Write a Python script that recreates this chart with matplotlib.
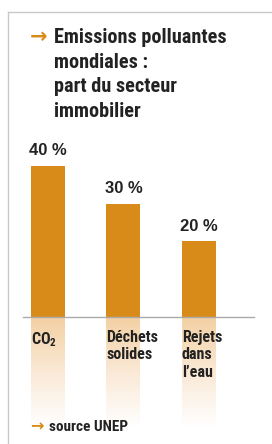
import numpy as np
import matplotlib
matplotlib.use("Agg")
import matplotlib.pyplot as plt
from matplotlib.lines import Line2D
from matplotlib.colors import LinearSegmentedColormap

# ==========================
# Data
# ==========================
categories = ["CO$_\\mathregular{2}$", "Déchets\nsolides", "Rejets\ndans\nl’eau"]
values = [40, 30, 20]
value_labels = ["40 %", "30 %", "20 %"]
title_lines = "Emissions polluantes\nmondiales :\npart du secteur\nimmobilier"
source = "source UNEP"

orange = "#D98B19"
dark = "#222222"
narrow = ["Roboto Condensed", "Archivo Narrow", "DejaVu Sans"]
W, H = 272, 444

fig = plt.figure(figsize=(W / 100, H / 100), dpi=100)
fig.patch.set_facecolor("white")

# frame lines (left and top)
fig.add_artist(Line2D([8 / W, 8 / W], [0, 1 - 12 / H], color="#c8c8c8", lw=1))
fig.add_artist(Line2D([8 / W, 1], [1 - 12 / H, 1 - 12 / H], color="#c8c8c8", lw=1))

# ==========================
# Bars
# ==========================
px_per_unit = 3.78
x0, step = 48, 75.5
base_px, top_px, bot_px = 317, 150, 430
ax = fig.add_axes([0, (H - bot_px) / H, 1, (bot_px - top_px) / H])
ax.axis("off")

x = np.arange(len(values))
width = 34 / step
ax.bar(x, values, width=width, color=orange, zorder=2)

# fading ghost bars under the baseline
cmap = LinearSegmentedColormap.from_list("fade", ["#F3D0A2", "#FAE9D6", "#FFFFFF"])
grad = np.linspace(0, 1, 100).reshape(-1, 1)
depth = (428 - base_px) / px_per_unit
for xi in x:
    ax.imshow(grad, cmap=cmap, aspect="auto", zorder=1,
              extent=(xi - width / 2, xi + width / 2, -depth, 0))
ax.set_xlim(-x0 / step, (W - x0) / step)
ax.set_ylim(-(bot_px - base_px) / px_per_unit, (base_px - top_px) / px_per_unit)

ax.plot([(23 - x0) / step, (254 - x0) / step], [0, 0], color="#aaaaaa", lw=1, zorder=3)

for xi, v, lab in zip(x, values, value_labels):
    ax.text(xi, v + 2.0, lab, ha="center", va="bottom", fontsize=12,
            fontweight="bold", color=dark, family=["Liberation Sans", "DejaVu Sans"])

for xi, cat in zip(x, categories):
    ax.text(xi - width / 2, -3.4, cat, ha="left", va="top", fontsize=11.5,
            fontweight="bold", color=dark, family=narrow, linespacing=1.2, zorder=4)

# ==========================
# Title and source
# ==========================
fig.text(30 / W, 1 - 37 / H, "→", ha="left", va="center", fontsize=15,
         fontweight="bold", color=orange, family=["DejaVu Sans"])
fig.text(54 / W, 1 - 28 / H, title_lines, ha="left", va="top", fontsize=14.6,
         fontweight="bold", color=dark, family=narrow, linespacing=1.38)

fig.text(30 / W, 1 - 427 / H, "→", ha="left", va="center", fontsize=11.5,
         fontweight="bold", color=orange, family=["DejaVu Sans"])
fig.text(49 / W, 1 - 427 / H, source, ha="left", va="center", fontsize=11,
         fontweight="bold", color=dark, family=narrow)

fig.savefig("out.png", dpi=100, facecolor="white")
